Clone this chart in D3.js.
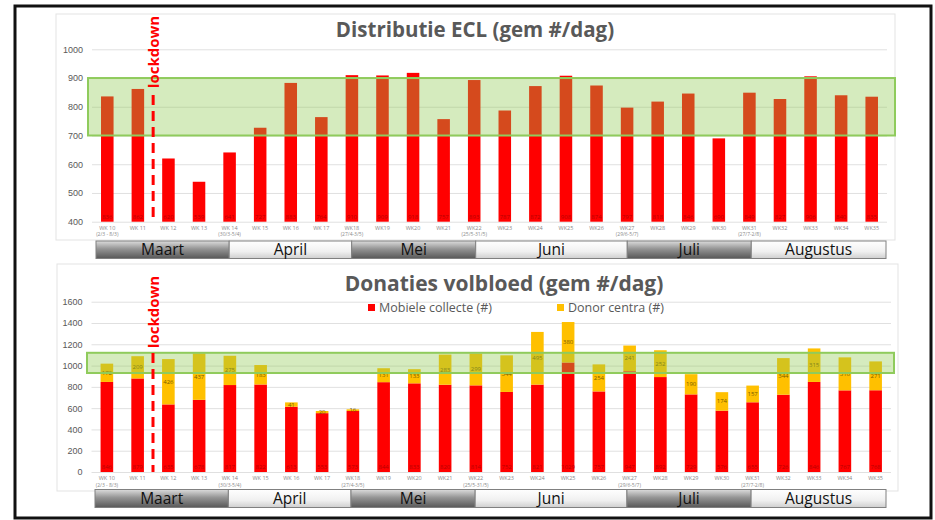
<!DOCTYPE html>
<html>
<head>
<meta charset="utf-8">
<script src="https://cdn.jsdelivr.net/npm/d3@7/dist/d3.min.js"></script>
<style>
  body { margin: 0; background: #fff; }
  svg { display: block; font-family: 'Open Sans', sans-serif; }
</style>
</head>
<body>
<svg id="chart" width="935" height="520"></svg>
<script>
'use strict';

var weeks = ['WK 10', 'WK 11', 'WK 12', 'WK 13', 'WK 14', 'WK 15', 'WK 16', 'WK 17', 'WK18', 'WK19',
  'WK20', 'WK21', 'WK22', 'WK23', 'WK24', 'WK25', 'WK26', 'WK27', 'WK28', 'WK29',
  'WK30', 'WK31', 'WK32', 'WK33', 'WK34', 'WK35'];
var weekDates = ['(2/3 - 8/3)', '', '', '', '(30/3-5/4)', '', '', '', '(27/4-3/5)', '',
  '', '', '(25/5-31/5)', '', '', '', '', '(29/6-5/7)', '', '',
  '', '(27/7-2/8)', '', '', '', ''];

// distributie ECL, gem #/dag
var eclValues = [836, 862, 620, 539, 641, 727, 883, 764, 910, 909,
  918, 757, 893, 787, 872, 908, 874, 797, 818, 846,
  690, 849, 827, 906, 840, 835];

// donaties volbloed, gem #/dag
var mobielValues = [846, 879, 635, 678, 817, 822, 613, 553, 573, 844,
  833, 820, 814, 752, 821, 1029, 757, 947, 892, 729,
  576, 655, 726, 846, 767, 768];
var donorValues = [172, 209, 426, 437, 275, 183, 41, 20, 16, 131,
  133, 283, 299, 344, 495, 380, 254, 241, 252, 190,
  174, 157, 344, 315, 310, 271];

var monthNames = ['Maart', 'April', 'Mei', 'Juni', 'Juli', 'Augustus'];
var monthWeeks = [4.35, 4.0, 4.05, 4.95, 4.05, 4.4];

var eclTicks = [400, 500, 600, 700, 800, 900, 1000];
var donTicks = [0, 200, 400, 600, 800, 1000, 1200, 1400, 1600];
var eclTarget = [700, 900];
var donTarget = [930, 1120];

var RED = '#ff0000';
var YELLOW = '#ffc000';

var svg = d3.select('#chart');
var defs = svg.append('defs');

var dark = defs.append('linearGradient').attr('id', 'gDark')
    .attr('x1', 0).attr('y1', 0).attr('x2', 0).attr('y2', 1);
dark.append('stop').attr('offset', '0%').attr('stop-color', '#dcdcdc');
dark.append('stop').attr('offset', '45%').attr('stop-color', '#949494');
dark.append('stop').attr('offset', '100%').attr('stop-color', '#585858');

var light = defs.append('linearGradient').attr('id', 'gLight')
    .attr('x1', 0).attr('y1', 0).attr('x2', 0).attr('y2', 1);
light.append('stop').attr('offset', '0%').attr('stop-color', '#ffffff');
light.append('stop').attr('offset', '60%').attr('stop-color', '#f0f0f0');
light.append('stop').attr('offset', '100%').attr('stop-color', '#cfcfcf');

function drawChart(cfg) {
  var g = svg.append('g');

  g.append('rect')
      .attr('x', cfg.area[0]).attr('y', cfg.area[1])
      .attr('width', cfg.area[2]).attr('height', cfg.area[3])
      .attr('fill', '#fff')
      .attr('stroke', '#e3e3e3');

  var x = d3.scaleBand()
      .domain(weeks)
      .range(cfg.xRange)
      .paddingInner(0.59)
      .paddingOuter(0.295);

  var y = d3.scaleLinear()
      .domain([cfg.ticks[0], cfg.ticks[cfg.ticks.length - 1]])
      .range(cfg.yRange);

  // gridlines + tick labels
  var yAxis = d3.axisLeft(y)
      .tickValues(cfg.ticks)
      .tickSize(-(cfg.xRange[1] - cfg.xRange[0]))
      .tickPadding(9)
      .tickFormat(d3.format('d'));

  var ax = g.append('g')
      .attr('transform', 'translate(' + cfg.xRange[0] + ',0)')
      .call(yAxis);
  ax.select('.domain').remove();
  ax.selectAll('line').attr('stroke', '#e0e0e0');
  ax.selectAll('text')
      .attr('fill', '#595959')
      .style('font-size', '9px');

  g.append('text')
      .attr('x', cfg.title[0]).attr('y', cfg.title[1])
      .attr('text-anchor', 'middle')
      .attr('fill', '#595959')
      .style('font-size', cfg.titleSize + 'px')
      .style('font-weight', 'bold')
      .text(cfg.titleText);

  var base = y.domain()[0];
  var cx = function(d) { return x(d) + x.bandwidth() / 2; };

  cfg.series.forEach(function(s) {
    g.selectAll(null)
        .data(weeks)
        .enter().append('rect')
        .attr('x', function(d) { return x(d); })
        .attr('width', x.bandwidth())
        .attr('y', function(d, i) { return y(s.start(i) + s.values[i]); })
        .attr('height', function(d, i) {
          return y(Math.max(base, s.start(i))) - y(s.start(i) + s.values[i]);
        })
        .attr('fill', s.color);
  });

  // data labels
  cfg.series.forEach(function(s, k) {
    g.selectAll(null)
        .data(weeks)
        .enter().append('text')
        .attr('x', cx)
        .attr('y', function(d, i) {
          if (k === 0) { return y(base) - 3; }
          return y(s.start(i) + s.values[i] / 2) + 2;
        })
        .attr('text-anchor', 'middle')
        .attr('fill', s.labelColor)
        .style('font-size', '6px')
        .text(function(d, i) { return s.values[i]; });
  });

  // week labels, two lines
  g.selectAll(null)
      .data(weeks)
      .enter().append('text')
      .attr('x', cx)
      .attr('y', y(base) + 8)
      .attr('text-anchor', 'middle')
      .attr('fill', '#8a8a8a')
      .style('font-size', '5.5px')
      .text(function(d) { return d; });
  g.selectAll(null)
      .data(weeks)
      .enter().append('text')
      .attr('x', cx)
      .attr('y', y(base) + 14.5)
      .attr('text-anchor', 'middle')
      .attr('fill', '#8a8a8a')
      .style('font-size', '5px')
      .text(function(d, i) { return weekDates[i]; });

  // target band
  g.append('rect')
      .attr('x', cfg.bandX[0])
      .attr('width', cfg.bandX[1] - cfg.bandX[0])
      .attr('y', y(cfg.target[1]))
      .attr('height', y(cfg.target[0]) - y(cfg.target[1]))
      .attr('fill', 'rgb(142,201,80)')
      .attr('fill-opacity', 0.37)
      .attr('stroke', '#8fcb5c')
      .attr('stroke-width', 2);

  // lockdown marker
  var lx = x(weeks[1]) + x.bandwidth() / 2 + x.step() / 2;
  g.append('line')
      .attr('x1', lx).attr('x2', lx)
      .attr('y1', cfg.dashY).attr('y2', y(base))
      .attr('stroke', RED)
      .attr('stroke-width', 3)
      .attr('stroke-dasharray', '10,6');
  g.append('text')
      .attr('transform', 'translate(' + (lx + 6) + ',' + cfg.lockMid + ') rotate(-90)')
      .attr('text-anchor', 'middle')
      .attr('fill', RED)
      .style('font-size', '15px')
      .style('font-weight', 'bold')
      .text('lockdown');

  // month strip
  var total = d3.sum(monthWeeks);
  var m = d3.scaleLinear().domain([0, total]).range(cfg.monthX);
  var acc = 0;
  monthNames.forEach(function(name, i) {
    var x0 = m(acc);
    acc += monthWeeks[i];
    var x1 = m(acc);
    g.append('rect')
        .attr('x', x0).attr('y', cfg.monthY)
        .attr('width', x1 - x0).attr('height', cfg.monthH)
        .attr('fill', i % 2 === 0 ? 'url(#gDark)' : 'url(#gLight)')
        .attr('stroke', '#808080')
        .attr('stroke-width', 1);
    g.append('text')
        .attr('x', (x0 + x1) / 2)
        .attr('y', cfg.monthY + cfg.monthH - 3.5)
        .attr('text-anchor', 'middle')
        .attr('fill', '#111')
        .style('font-size', '15.5px')
        .text(name);
  });

  return g;
}

drawChart({
  area: [56, 14, 839, 226],
  xRange: [92, 887],
  yRange: [221.7, 49.3],
  ticks: eclTicks,
  target: eclTarget,
  bandX: [88, 895],
  title: [475, 37],
  titleSize: 20.5,
  titleText: 'Distributie ECL (gem #/dag)',
  dashY: 95,
  lockMid: 52,
  monthX: [96, 886],
  monthY: 241,
  monthH: 17.5,
  series: [
    { values: eclValues, color: RED, labelColor: '#b80000', start: function() { return 0; } }
  ]
});

var bottom = drawChart({
  area: [57, 264, 841, 227],
  xRange: [91.5, 891],
  yRange: [472, 301.7],
  ticks: donTicks,
  target: donTarget,
  bandX: [87, 894],
  title: [504, 291],
  titleSize: 21,
  titleText: 'Donaties volbloed (gem #/dag)',
  dashY: 353,
  lockMid: 312,
  monthX: [95, 886],
  monthY: 489.5,
  monthH: 18,
  series: [
    { values: mobielValues, color: RED, labelColor: '#b80000', start: function() { return 0; } },
    { values: donorValues, color: YELLOW, labelColor: '#7a5c00', start: function(i) { return mobielValues[i]; } }
  ]
});

// legend
var legend = [['Mobiele collecte (#)', RED, 368], ['Donor centra (#)', YELLOW, 557]];
legend.forEach(function(l) {
  bottom.append('rect')
      .attr('x', l[2]).attr('y', 304)
      .attr('width', 7).attr('height', 7)
      .attr('fill', l[1]);
  bottom.append('text')
      .attr('x', l[2] + 11).attr('y', 312)
      .attr('fill', '#595959')
      .style('font-size', '12.5px')
      .text(l[0]);
});

// outer frame
svg.append('rect')
    .attr('x', 15).attr('y', 6)
    .attr('width', 916).attr('height', 512)
    .attr('fill', 'none')
    .attr('stroke', '#111')
    .attr('stroke-width', 3);
</script>
</body>
</html>
